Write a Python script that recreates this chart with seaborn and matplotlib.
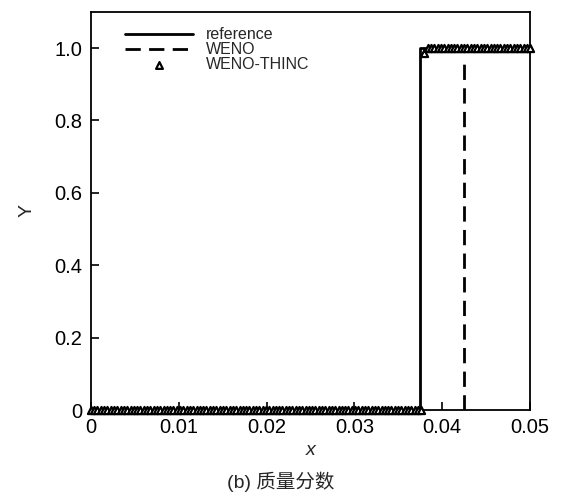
import numpy as np
import pandas as pd
import matplotlib
matplotlib.use("Agg")
import matplotlib.pyplot as plt
import seaborn as sns

# ---- data ----
ref_x = [0.0, 0.0375, 0.0375, 0.05]
ref_y = [0.0, 0.0, 1.0, 1.0]

weno_x = [0.0, 0.0425, 0.0425, 0.05]
weno_y = [0.0, 0.0, 0.975, 0.975]

# WENO-THINC samples (cell centres of the mesh)
n_cells = 134
thinc_x = list(np.linspace(0.0, 0.05, n_cells))
n_zero = 101
thinc_y = [0.0] * n_zero + [0.985] + [1.0] * (n_cells - n_zero - 1)

x_ticks = [0, 0.01, 0.02, 0.03, 0.04, 0.05]
x_ticklabels = ["0", "0.01", "0.02", "0.03", "0.04", "0.05"]
y_ticks = [0, 0.2, 0.4, 0.6, 0.8, 1.0]
y_ticklabels = ["0", "0.2", "0.4", "0.6", "0.8", "1.0"]

sns.set_theme(style="ticks")
plt.rcParams["font.family"] = ["Liberation Sans", "Noto Sans CJK SC", "DejaVu Sans"]

fig = plt.figure(figsize=(5.61, 4.94), dpi=100)
ax = fig.add_axes([0.162, 0.170, 0.783, 0.806])

df_ref = pd.DataFrame({"x": ref_x, "y": ref_y})
df_weno = pd.DataFrame({"x": weno_x, "y": weno_y})
df_thinc = pd.DataFrame({"x": thinc_x, "y": thinc_y})

sns.lineplot(data=df_ref, x="x", y="y", ax=ax, color="black", lw=2.0,
             sort=False, estimator=None, label="reference")
sns.lineplot(data=df_weno.iloc[1:3], x="x", y="y", ax=ax, color="black", lw=2.0,
             sort=False, estimator=None, label="WENO", dashes=False)
ax.lines[-1].set_dashes([5.5, 3.0])
sns.scatterplot(data=df_thinc, x="x", y="y", ax=ax, marker="^", s=26,
                facecolor="white", edgecolor="black", linewidth=1.6,
                label="WENO-THINC", zorder=5, clip_on=False)

ax.set_xlim(0, 0.05)
ax.set_ylim(0, 1.1)
ax.set_xticks(x_ticks)
ax.set_xticklabels(x_ticklabels)
ax.set_yticks(y_ticks)
ax.set_yticklabels(y_ticklabels)
ax.tick_params(direction="in", length=6, width=1.2, labelsize=14.5, colors="black", pad=6)
for s in ax.spines.values():
    s.set_linewidth(1.3)
    s.set_color("black")

ax.set_xlabel("x", fontsize=14, style="italic", labelpad=3)
ax.set_ylabel("Y", fontsize=14, labelpad=14)

leg = ax.legend(loc="upper left", bbox_to_anchor=(0.055, 0.985), frameon=False,
                fontsize=11.5, handlelength=4.3, handletextpad=0.8,
                labelspacing=0.0, borderaxespad=0.2)
leg.legend_handles[2].set_sizes([24])

fig.text(0.5, 0.024, "(b) 质量分数", ha="center", va="center", fontsize=14,
         family=["Liberation Sans", "Noto Sans CJK SC"])

fig.savefig("out.png", dpi=100)
